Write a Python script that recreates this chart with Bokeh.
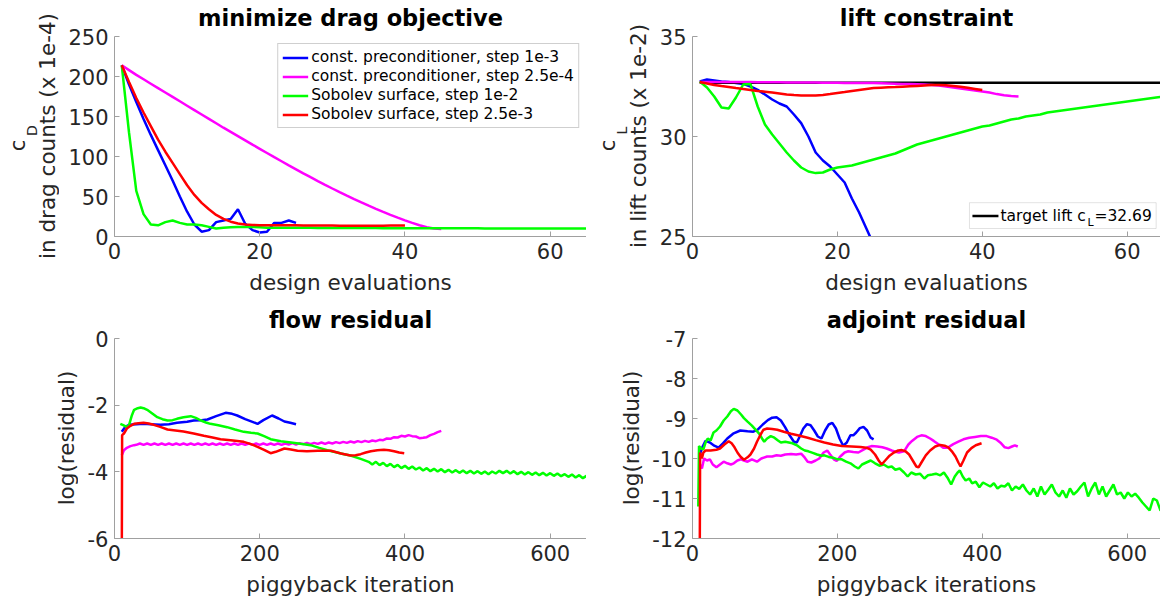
import math
from bokeh.plotting import figure
from bokeh.models import Range1d, Legend, LegendItem, Label, BoxAnnotation, FixedTicker
from bokeh.layouts import column, row
from bokeh.embed import file_html
from bokeh.resources import INLINE

FONT = "DejaVu Sans"
BLUE, MAGENTA, GREEN, RED = "#0000ff", "#ff00ff", "#00ff00", "#ff0000"
AXC = "#a0a0a0"
TXT = "#262626"
LW = 2.5

series_labels = ["const. preconditioner, step 1e-3",
                 "const. preconditioner, step 2.5e-4",
                 "Sobolev surface, step 1e-2",
                 "Sobolev surface, step 2.5e-3"]

# ---------------- design evaluations ----------------
eval_blue = list(range(1, 26))
eval_magenta = list(range(1, 46))
eval_green = list(range(1, 66))
eval_red = list(range(1, 41))

drag_blue = [214, 190, 168, 147, 127, 108, 89, 70, 50, 31, 15, 6, 8, 18, 20,
             22, 34, 16, 8, 5, 6, 17, 17, 20, 17]
drag_magenta = [214, 208, 202, 196.5, 191, 185.5, 180, 174.5, 169, 163.5,
                158, 152.5, 147, 141.5, 136, 130.7, 125.4, 120.1, 114.8, 109.6,
                104.4, 99.2, 94.1, 89, 84, 79, 74.1, 69.3, 64.6, 60,
                55.5, 51.1, 46.8, 42.6, 38.5, 34.6, 30.8, 27.1, 23.6, 20.2,
                17, 14, 11.5, 10, 9.5]
drag_green = [214, 130, 57, 28, 15, 14, 18, 20, 17, 15,
              15, 14, 12, 10, 11, 11.5, 12, 12, 12, 11.5,
              11, 11, 11, 11, 11, 10.8, 10.8, 10.7, 10.7, 10.6,
              10.6, 10.6, 10.5, 10.5, 10.5, 10.5, 10.4, 10.4, 10.4, 10.4,
              10.3, 10.3, 10.3, 10.3, 10.3, 10.2, 10.2, 10.2, 10.2, 10.2,
              10.1, 10.1, 10.1, 10.1, 10.1, 10.1, 10.0, 10.0, 10.0, 10.0,
              10.0, 10.0, 10.0, 10.0, 10.0]
drag_red = [214, 193, 173, 155, 138, 121, 106, 92, 78, 64,
            52, 42, 34, 27, 22, 18.5, 16.3, 15, 14.5, 14.2,
            14, 14, 14, 14, 14, 13.9, 13.8, 13.8, 13.7, 13.6,
            13.5, 13.4, 13.3, 13.3, 13.3, 13.4, 13.5, 13.6, 13.7, 13.8]

lift_blue = [32.75, 32.85, 32.8, 32.75, 32.72, 32.68, 32.63, 32.5, 32.33, 32.1,
             31.85, 31.65, 31.5, 31.1, 30.67, 30.0, 29.2, 28.8, 28.5, 28.1,
             27.7, 26.9, 26.2, 25.4, 24.6]
lift_magenta = [32.73, 32.73, 32.73, 32.72, 32.72, 32.72, 32.72, 32.72, 32.71, 32.71,
                32.71, 32.71, 32.7, 32.7, 32.7, 32.7, 32.7, 32.69, 32.69, 32.69,
                32.68, 32.68, 32.68, 32.67, 32.67, 32.66, 32.65, 32.64, 32.63, 32.62,
                32.61, 32.6, 32.58, 32.55, 32.5, 32.45, 32.4, 32.35, 32.3, 32.25,
                32.2, 32.12, 32.06, 32.02, 32.0]
lift_green = [32.75, 32.45, 32.0, 31.45, 31.4, 31.95, 32.6, 32.62, 31.5, 30.6,
              30.1, 29.65, 29.2, 28.8, 28.45, 28.25, 28.17, 28.2, 28.35, 28.45,
              28.5, 28.55, 28.65, 28.75, 28.85, 28.95, 29.05, 29.15, 29.3, 29.45,
              29.6, 29.7, 29.8, 29.9, 30.0, 30.1, 30.2, 30.3, 30.4, 30.5,
              30.55, 30.65, 30.75, 30.85, 30.9, 31.0, 31.05, 31.1, 31.2, 31.25,
              31.3, 31.35, 31.4, 31.45, 31.5, 31.55, 31.6, 31.65, 31.7, 31.75,
              31.8, 31.85, 31.9, 31.95, 32.0]
lift_red = [32.72, 32.65, 32.58, 32.52, 32.47, 32.42, 32.38, 32.33, 32.28, 32.24,
            32.2, 32.15, 32.1, 32.07, 32.05, 32.05, 32.05, 32.08, 32.12, 32.17,
            32.22, 32.28, 32.33, 32.38, 32.42, 32.44, 32.46, 32.47, 32.49, 32.51,
            32.53, 32.55, 32.57, 32.58, 32.56, 32.53, 32.49, 32.44, 32.38, 32.32]
target_lift = 32.69

# ---------------- piggyback iterations: flow residual ----------------
flow_blue_x = [10, 15, 20, 30, 40, 50, 63, 75, 86, 100, 109, 120, 128, 140, 153,
               162, 169, 180, 190, 197, 205, 217, 226, 234, 242, 250]
flow_blue_y = [-2.8, -2.65, -2.59, -2.57, -2.56, -2.57, -2.59, -2.57, -2.53, -2.5,
               -2.46, -2.45, -2.43, -2.33, -2.23, -2.26, -2.31, -2.42, -2.5, -2.56,
               -2.45, -2.31, -2.4, -2.49, -2.53, -2.57]

flow_magenta_x = [10, 13, 17, 22, 27] + list(range(30, 451, 5))
flow_magenta_y = [-3.5, -3.35, -3.28, -3.23, -3.2,
                  -3.19, -3.15, -3.19, -3.15, -3.19, -3.15, -3.19, -3.15, -3.19, -3.15,
                  -3.19, -3.15, -3.19, -3.15, -3.19, -3.15, -3.19, -3.15, -3.19, -3.15,
                  -3.19, -3.15, -3.19, -3.15, -3.19, -3.15, -3.19, -3.15, -3.19, -3.15,
                  -3.19, -3.15, -3.19, -3.15, -3.19, -3.15, -3.19, -3.15, -3.19, -3.15,
                  -3.19, -3.15, -3.18, -3.14, -3.18, -3.14, -3.17, -3.13, -3.17, -3.13,
                  -3.16, -3.12, -3.16, -3.12, -3.15, -3.11, -3.14, -3.10, -3.13, -3.09,
                  -3.12, -3.08, -3.11, -3.07, -3.1, -3.06, -3.08, -3.04, -3.05, -3.0,
                  -3.01, -2.96, -2.97, -2.92, -2.94, -2.9, -2.93, -2.94, -2.99, -2.98,
                  -2.96, -2.9, -2.86, -2.81, -2.77]

flow_green_x = [8, 12, 17, 20, 24, 27, 32, 36, 40, 45, 52, 59, 66, 73, 80, 86, 95,
                105, 112, 119, 126, 132, 143, 155, 166, 178, 188, 197, 206, 215,
                229, 243, 256, 270, 282, 293, 305, 316, 325, 340, 350] + list(range(355, 656, 5))
flow_green_y = [-2.56, -2.6, -2.66, -2.6, -2.3, -2.14, -2.09, -2.07, -2.09, -2.14,
                -2.25, -2.36, -2.42, -2.46, -2.45, -2.41, -2.36, -2.33, -2.38, -2.46,
                -2.52, -2.56, -2.6, -2.66, -2.73, -2.8, -2.83, -2.85, -2.93, -3.02,
                -3.08, -3.12, -3.16, -3.2, -3.28, -3.35, -3.41, -3.47, -3.51, -3.62,
                -3.7,
                -3.78, -3.70, -3.80, -3.73, -3.83, -3.76, -3.86, -3.79, -3.89, -3.82,
                -3.91, -3.84, -3.93, -3.87, -3.96, -3.89, -3.98, -3.91, -3.99, -3.92,
                -4.01, -3.94, -4.02, -3.95, -4.03, -3.96, -4.04, -3.97, -4.05, -3.98,
                -4.06, -3.99, -4.07, -3.99, -4.05, -3.97, -4.04, -3.97, -4.05, -3.98,
                -4.07, -4.0, -4.08, -4.01, -4.09, -4.02, -4.10, -4.03, -4.11, -4.04,
                -4.12, -4.05, -4.13, -4.07, -4.15, -4.08, -4.17, -4.1, -4.19, -4.12,
                -4.22]

flow_red_x = [10, 10.5, 13, 17, 22, 27, 33, 40, 47, 54, 63, 73, 84, 95, 109, 123,
              135, 146, 160, 178, 188, 197, 206, 215, 222, 234, 243, 252, 265, 280,
              298, 312, 325, 332, 339, 346, 353, 362, 371, 378, 385, 392, 399]
flow_red_y = [-7.0, -2.9, -2.85, -2.7, -2.62, -2.56, -2.54, -2.53, -2.55, -2.59,
              -2.65, -2.73, -2.76, -2.79, -2.85, -2.92, -2.97, -3.02, -3.05, -3.1,
              -3.17, -3.25, -3.34, -3.44, -3.4, -3.3, -3.33, -3.37, -3.38, -3.37,
              -3.37, -3.45, -3.51, -3.5, -3.47, -3.42, -3.38, -3.35, -3.34, -3.35,
              -3.38, -3.42, -3.44]

# ---------------- piggyback iterations: adjoint residual ----------------
adj_blue_x = [10, 14, 18, 24, 30, 36, 42, 48, 56, 66, 76, 84, 90, 97, 104, 110, 116,
              122, 128, 134, 140, 144, 148, 153, 158, 163, 168, 173, 178, 183, 188,
              193, 198, 203, 208, 213, 218, 222, 226, 231, 236, 241, 246, 250]
adj_blue_y = [-9.9, -9.7, -9.56, -9.6, -9.68, -9.73, -9.62, -9.5, -9.38, -9.3, -9.32,
              -9.33, -9.28, -9.15, -9.04, -8.98, -8.97, -9.05, -9.22, -9.42, -9.58,
              -9.6, -9.45, -9.25, -9.14, -9.17, -9.3, -9.45, -9.5, -9.3, -9.15, -9.11,
              -9.25, -9.5, -9.68, -9.6, -9.42, -9.42, -9.35, -9.24, -9.21, -9.3,
              -9.48, -9.52]

adj_magenta_x = [10, 13, 16, 20, 24, 28, 33, 38, 43, 48, 53, 57, 62, 67, 71, 76, 82,
                 89, 95, 103, 110, 116, 122, 128, 136, 143, 150, 155, 159, 164, 170,
                 175, 181, 186, 190, 195, 199, 204, 210, 215, 222, 229, 236, 242, 247,
                 255, 262, 268, 275, 280, 285, 292, 298, 303, 310, 316, 322, 328, 333,
                 340, 346, 352, 360, 367, 374, 382, 390, 398, 406, 413, 420, 426, 431,
                 436, 441, 445, 449]
adj_magenta_y = [-10.14, -10.25, -10.0, -10.05, -10.02, -10.15, -10.22, -10.15, -10.08,
                 -10.12, -10.15, -10.12, -10.05, -10.02, -10.05, -10.08, -10.02, -10.08,
                 -10.0, -9.95, -9.95, -9.92, -9.93, -9.9, -9.89, -9.9, -9.88, -9.98,
                 -10.08, -10.1, -10.05, -10.0, -9.85, -9.8, -9.9, -10.02, -10.06, -9.95,
                 -9.85, -9.82, -9.84, -9.85, -9.78, -9.72, -9.69, -9.7, -9.72, -9.75,
                 -9.8, -9.83, -9.85, -9.82, -9.65, -9.56, -9.46, -9.42, -9.44, -9.5,
                 -9.56, -9.65, -9.73, -9.73, -9.64, -9.58, -9.52, -9.48, -9.46, -9.44,
                 -9.44, -9.48, -9.53, -9.62, -9.72, -9.74, -9.7, -9.67, -9.7]

adj_green_x = [8, 9, 12, 15, 18, 21, 25, 29, 33, 38, 43, 48, 53, 57, 62, 67, 71, 76,
               82, 87, 92, 96, 99, 103, 108, 113, 118, 122, 128, 133, 138, 145, 150,
               155, 160, 166, 172, 178, 182, 188, 194, 200, 206, 212, 218, 224, 229,
               234, 240, 246, 252, 258, 264, 270, 275, 280, 286, 292, 297, 302, 308,
               314, 320, 325, 331, 336, 342, 347, 352, 357, 362, 366, 369, 373, 377,
               382, 386, 391, 396, 401, 406, 411, 416, 421, 426, 431, 436, 441, 446,
               451, 456, 461, 466, 471, 476, 481, 486, 491, 496, 501, 506, 511, 516,
               521, 526, 531, 536, 541, 546, 551, 556, 561, 566, 571, 576, 581, 586,
               591, 596, 601, 606, 611, 616, 621, 626, 631, 636, 641, 646, 650]
adj_green_y = [-11.2, -9.69, -9.75, -9.77, -9.6, -9.5, -9.55, -9.35, -9.3, -9.2,
               -9.05, -8.95, -8.82, -8.76, -8.8, -8.9, -8.99, -9.08, -9.18, -9.28,
               -9.38, -9.5, -9.58, -9.5, -9.44, -9.48, -9.55, -9.6, -9.58, -9.6,
               -9.62, -9.68, -9.75, -9.8, -9.82, -9.86, -9.9, -9.93, -9.92, -9.96,
               -9.98, -10.02, -10.02, -10.08, -10.12, -10.2, -10.25, -10.15, -10.1,
               -10.05, -10.12, -10.18, -10.15, -10.22, -10.2, -10.28, -10.25, -10.35,
               -10.45, -10.35, -10.4, -10.38, -10.5, -10.42, -10.4, -10.38, -10.42,
               -10.35, -10.48, -10.65, -10.45, -10.35, -10.3, -10.45, -10.55, -10.5,
               -10.62, -10.58, -10.72, -10.6, -10.65, -10.7, -10.62, -10.75, -10.68,
               -10.7, -10.62, -10.8, -10.7, -10.76, -10.65, -10.8, -10.9, -10.75,
               -10.95, -10.7, -10.9, -10.78, -10.65, -10.85, -10.95, -10.8, -10.98,
               -10.75, -10.9, -10.82, -10.7, -10.6, -10.95, -10.75, -10.6, -10.9,
               -10.7, -10.95, -10.8, -10.65, -10.9, -10.85, -11.0, -10.85, -10.95,
               -10.88, -10.98, -11.1, -11.2, -11.3, -11.0, -11.05, -11.3, -11.25]

adj_red_x = [10, 10.5, 13, 15, 18, 25, 33, 38, 44, 50, 54, 58, 62, 66, 71, 76, 80, 85,
             89, 94, 98, 103, 110, 117, 126, 136, 148, 159, 170, 182, 194, 206, 220,
             232, 240, 246, 252, 257, 261, 266, 272, 278, 284, 289, 294, 299, 304,
             309, 312, 316, 322, 328, 335, 342, 348, 353, 358, 363, 367, 370, 374,
             379, 385, 391, 399]
adj_red_y = [-12.5, -9.85, -10.0, -9.85, -9.8, -9.8, -9.78, -9.75, -9.65, -9.57, -9.62,
             -9.72, -9.85, -9.95, -10.03, -9.97, -9.9, -9.75, -9.58, -9.4, -9.28,
             -9.25, -9.26, -9.28, -9.33, -9.38, -9.43, -9.48, -9.54, -9.6, -9.65,
             -9.69, -9.7, -9.71, -9.73, -9.78, -9.9, -10.05, -10.15, -10.05, -9.93,
             -9.85, -9.8, -9.79, -9.82, -9.9, -10.05, -10.2, -10.22, -10.1, -9.92,
             -9.8, -9.7, -9.66, -9.68, -9.72, -9.82, -9.95, -10.1, -10.2, -10.05,
             -9.85, -9.74, -9.67, -9.62]


def no_align(p):
    try:
        p.frame_align = False
    except Exception:
        pass


def make_fig(title, xr, yr, width, height, border_left, border_bottom, xticks, yticks, xlabel):
    p = figure(width=width, height=height,
               x_range=Range1d(*xr), y_range=Range1d(*yr),
               output_backend="svg", toolbar_location=None,
               min_border_left=border_left, min_border_right=0,
               min_border_top=35, min_border_bottom=border_bottom)
    no_align(p)
    p.title.text = title
    p.title.text_font = FONT
    p.title.text_font_size = "22.5px"
    p.title.text_font_style = "bold"
    p.title.text_color = "black"
    p.title.align = "center"
    p.title.vertical_align = "top"
    p.title.standoff = 8
    p.outline_line_color = None
    p.xgrid.visible = False
    p.ygrid.visible = False
    p.xaxis.ticker = FixedTicker(ticks=xticks)
    p.yaxis.ticker = FixedTicker(ticks=yticks)
    # plain hyphen-minus in the tick labels, as in the original figure
    p.yaxis.major_label_overrides = {t: str(t) for t in yticks}
    p.xaxis.axis_label = xlabel
    for ax in (p.xaxis[0], p.yaxis[0]):
        ax.major_tick_in = 5
        ax.major_tick_out = 0
        ax.minor_tick_line_color = None
        ax.axis_line_color = AXC
        ax.major_tick_line_color = AXC
        ax.major_label_text_font = FONT
        ax.major_label_text_font_size = "21px"
        ax.major_label_text_color = TXT
        ax.major_label_standoff = 6
    xa = p.xaxis[0]
    xa.axis_label_text_font = FONT
    xa.axis_label_text_font_size = "21.5px"
    xa.axis_label_text_font_style = "normal"
    xa.axis_label_text_color = TXT
    xa.axis_label_standoff = 8
    return p


def label_strip(width, height, items):
    """Blank canvas left of a plot carrying its rotated y-axis label lines.
    Each item: text, x of the text baseline, y of the text centre (px from top), font px."""
    f = figure(width=width, height=height, x_range=Range1d(0, width), y_range=Range1d(0, height),
               output_backend="svg", toolbar_location=None, min_border=0,
               x_axis_type=None, y_axis_type=None)
    no_align(f)
    f.outline_line_color = None
    for text, xb, yc, size in items:
        f.add_layout(Label(x=xb - 0.345 * size, y=height - yc, text=text, angle=math.pi / 2,
                           text_font=FONT, text_font_size=f"{size}px", text_color=TXT,
                           text_align="center", text_baseline="middle"))
    return f


TOP_H, BOT_H = 302, 301

# ---------------- drag ----------------
p1 = make_fig("minimize drag objective", (0, 65), (0, 250), 527, TOP_H, 55, 66,
              [0, 20, 40, 60], [0, 50, 100, 150, 200, 250], "design evaluations")
r1 = p1.line(eval_blue, drag_blue, line_color=BLUE, line_width=LW)
r2 = p1.line(eval_magenta, drag_magenta, line_color=MAGENTA, line_width=LW)
r3 = p1.line(eval_green, drag_green, line_color=GREEN, line_width=LW)
r4 = p1.line(eval_red, drag_red, line_color=RED, line_width=LW)
leg = Legend(items=[LegendItem(label=l, renderers=[r]) for l, r in
                    zip(series_labels, [r1, r2, r3, r4])],
             location="top_right", margin=7, padding=4, spacing=1,
             glyph_width=26, glyph_height=17, label_height=17, label_standoff=3,
             label_text_font=FONT, label_text_font_size="15.5px", label_text_color="black",
             border_line_color=AXC, border_line_width=1, background_fill_alpha=1)
p1.add_layout(leg)
s1 = label_strip(59, TOP_H, [("c", 25, 145, 21), ("D", 36, 130, 14),
                             ("in drag counts (x 1e-4)", 54, 135.5, 21.5)])

# ---------------- lift ----------------
p2 = make_fig("lift constraint", (0, 64.6), (25, 35), 510, TOP_H, 42, 66,
              [0, 20, 40, 60], [25, 30, 35], "design evaluations")
p2.line(eval_blue, lift_blue, line_color=BLUE, line_width=LW)
p2.line(eval_green, [target_lift] * len(eval_green), line_color="black", line_width=LW)
p2.line(eval_magenta, lift_magenta, line_color=MAGENTA, line_width=LW)
p2.line(eval_green, lift_green, line_color=GREEN, line_width=LW)
p2.line(eval_red, lift_red, line_color=RED, line_width=LW)
s2 = label_strip(64, TOP_H, [("c", 29, 145, 21), ("L", 40, 130, 14),
                             ("in lift counts (x 1e-2)", 59, 135.5, 21.5)])
p2.add_layout(BoxAnnotation(left=38.23, right=64.0, bottom=25.40, top=26.69,
                            fill_color="white", fill_alpha=1, line_color=AXC, line_width=1))
p2.add_layout(BoxAnnotation(left=38.64, right=42.23, bottom=25.965, top=26.085,
                            fill_color="black", fill_alpha=1, line_color=None))
legend_y = 26.03
for txt, off, size, dy in [("target lift c", 0, "15.5px", 0), ("L", 87, "11px", -7),
                           ("=32.69", 94, "15.5px", 0)]:
    p2.add_layout(Label(x=42.51, y=legend_y, x_offset=off, y_offset=dy, text=txt,
                        text_font=FONT, text_font_size=size, text_color="black",
                        text_align="left", text_baseline="middle"))

# ---------------- flow residual ----------------
p3 = make_fig("flow residual", (0, 650), (-6, 0), 508, BOT_H, 36, 65,
              [0, 200, 400, 600], [-6, -4, -2, 0], "piggyback iteration")
p3.line(flow_blue_x, flow_blue_y, line_color=BLUE, line_width=LW)
p3.line(flow_magenta_x, flow_magenta_y, line_color=MAGENTA, line_width=LW)
p3.line(flow_green_x, flow_green_y, line_color=GREEN, line_width=LW)
p3.line(flow_red_x, flow_red_y, line_color=RED, line_width=LW)
s3 = label_strip(78, BOT_H, [("log(residual)", 73, 135.5, 21.5)])

# ---------------- adjoint residual ----------------
p4 = make_fig("adjoint residual", (0, 646), (-12, -7), 517, BOT_H, 49, 65,
              [0, 200, 400, 600], [-12, -11, -10, -9, -8, -7], "piggyback iterations")
p4.line(adj_blue_x, adj_blue_y, line_color=BLUE, line_width=LW)
p4.line(adj_magenta_x, adj_magenta_y, line_color=MAGENTA, line_width=LW)
p4.line(adj_green_x, adj_green_y, line_color=GREEN, line_width=LW)
p4.line(adj_red_x, adj_red_y, line_color=RED, line_width=LW)
s4 = label_strip(57, BOT_H, [("log(residual)", 52, 135.5, 21.5)])

layout = column(row(s1, p1, s2, p2), row(s3, p3, s4, p4))
open("out.html", "w").write(file_html(layout, INLINE))
